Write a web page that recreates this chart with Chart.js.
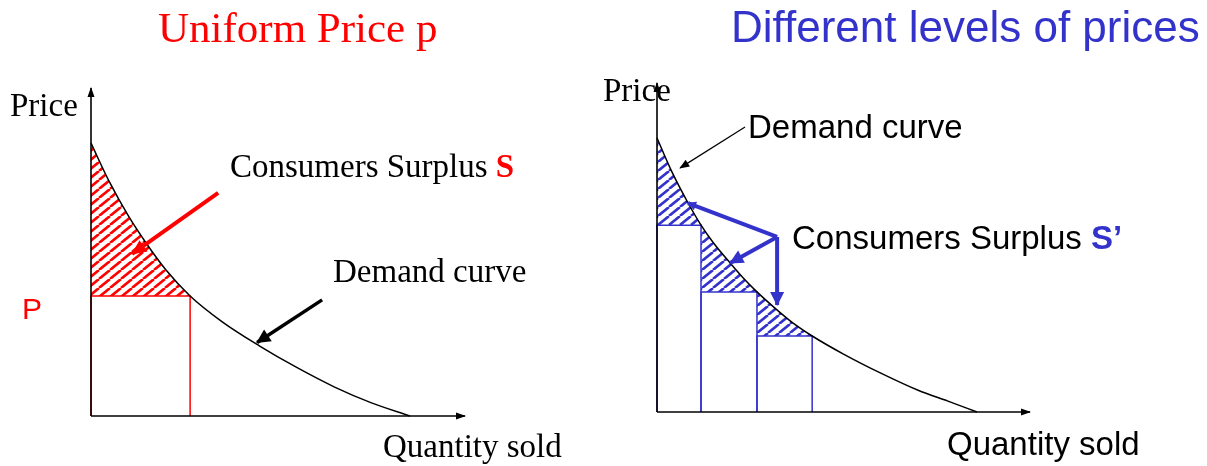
<!DOCTYPE html>
<html><head><meta charset="utf-8">
<script src="https://cdn.jsdelivr.net/npm/chart.js@4.4.1/dist/chart.umd.min.js"></script>
<style>
html,body{margin:0;padding:0;background:#fff;}
#wrap{position:relative;width:1207px;height:466px;overflow:hidden;background:#fff;}
canvas{position:absolute;top:0;}
.t{position:absolute;white-space:nowrap;line-height:1;}
.serif{font-family:"Liberation Serif","Times New Roman",serif;}
.sans{font-family:"Liberation Sans",Arial,sans-serif;}
</style></head><body>
<div id="wrap">
<canvas id="c1" width="603" height="466" style="left:0"></canvas>
<canvas id="c2" width="604" height="466" style="left:603px"></canvas>
<div class="t serif" style="left:158px;top:6px;font-size:43px;color:#ff0000">Uniform Price p</div>
<div class="t serif" style="left:10px;top:89px;font-size:33px;color:#000">Price</div>
<div class="t serif" style="left:230px;top:150px;font-size:33px;color:#000">Consumers Surplus <b style="color:#ff0000">S</b></div>
<div class="t sans" style="left:22px;top:294px;font-size:30px;color:#ff0000">P</div>
<div class="t serif" style="left:333px;top:255px;font-size:33px;color:#000">Demand curve</div>
<div class="t serif" style="left:383px;top:430px;font-size:33px;color:#000">Quantity sold</div>
<div class="t sans" style="left:731px;top:5px;font-size:44px;color:#3333cc">Different levels of prices</div>
<div class="t serif" style="left:603px;top:74px;font-size:33px;color:#000">Price</div>
<div class="t sans" style="left:748px;top:110px;font-size:33px;color:#000">Demand curve</div>
<div class="t sans" style="left:792px;top:221px;font-size:33px;color:#000">Consumers Surplus <b style="color:#3333cc">S’</b></div>
<div class="t sans" style="left:947px;top:427px;font-size:33px;color:#000">Quantity sold</div>
</div>
<script>
// ---------- data (quantity / price, axis units 0..100) ----------
const axisMax = 100;
// Left panel: uniform price
const demandQL = [0, 5, 10, 15, 20, 26.5, 35, 45, 55, 65, 75, 85.3];
const demandPL = [83.2, 71.2, 61.0, 52.3, 44.6, 36.6, 28.8, 21.4, 14.8, 8.9, 4.0, 0];
const uniformPrice = 36.6;
const uniformQty = 26.5;
const arrowSurplusL = [[34.0, 68.0], [11.0, 49.4]];
const arrowDemandL = [[61.8, 35.4], [44.4, 22.4]];
// Right panel: different price levels
const demandQR = [0, 4, 8.3, 11.8, 15, 19.6, 23, 26.8, 32, 36.5, 41.6, 50, 60, 70, 78, 85.8];
const demandPR = [83.3, 73.0, 63.6, 56.8, 51.6, 45.3, 40.9, 36.5, 31.2, 27.0, 23.1, 17.6, 11.8, 6.6, 3.3, 0];
const stepQ = [0, 11.8, 26.8, 41.6];
const stepP = [56.8, 36.5, 23.1];
const arrowDemandR = [[23.6, 86.6], [6.2, 74.2]];
const arrowHub = [32.2, 53.2];
const arrowTipsR = [[8.3, 63.5], [19.6, 45.3], [32.2, 32.5]];

const RED = '#ff0000', BLUE = '#3333cc', BLACK = '#000000';

function hatch(color) {
  const c = document.createElement('canvas');
  c.width = 11; c.height = 9;
  const x = c.getContext('2d');
  x.strokeStyle = color; x.lineWidth = 2.6;
  for (const o of [-11, 0, 11]) { x.beginPath(); x.moveTo(o, 9); x.lineTo(o + 11, 0); x.stroke(); }
  return x.createPattern(c, 'repeat');
}
const xy = (qs, ps) => qs.map((q, i) => ({x: q, y: ps[i]}));
const seg = pairs => pairs.map(p => ({x: p[0], y: p[1]}));
function line(data, color, width, extra) {
  return Object.assign({data, borderColor: color, backgroundColor: color, borderWidth: width,
    showLine: true, pointRadius: 0, fill: false, clip: false, tension: 0,
    borderCapStyle: 'butt', borderJoinStyle: 'miter'}, extra || {});
}
function area(qs, ps, q0, q1, level, color) {
  const d = [];
  qs.forEach((q, i) => { if (q >= q0 && q <= q1) d.push({x: q, y: ps[i]}); });
  return line(d, 'rgba(0,0,0,0)', 0, {fill: {value: level}, backgroundColor: hatch(color),
    cubicInterpolationMode: 'monotone'});
}

const arrowPlugin = {
  id: 'arrowHeads',
  afterDatasetsDraw(chart) {
    const ctx = chart.ctx;
    chart.data.datasets.forEach((ds, i) => {
      if (!ds.head) return;
      const p = chart.getDatasetMeta(i).data;
      const a = p[p.length - 2], b = p[p.length - 1];
      const ang = Math.atan2(b.y - a.y, b.x - a.x);
      const len = ds.head[0], half = ds.head[1];
      ctx.save();
      ctx.fillStyle = ds.borderColor;
      ctx.translate(b.x, b.y); ctx.rotate(ang);
      ctx.beginPath(); ctx.moveTo(1, 0); ctx.lineTo(-len, half); ctx.lineTo(-len, -half); ctx.closePath(); ctx.fill();
      ctx.restore();
    });
  }
};

function opts(pad) {
  return {
    responsive: false, animation: false, devicePixelRatio: 1, events: [],
    layout: {padding: pad},
    plugins: {legend: {display: false}, tooltip: {enabled: false}, title: {display: false}},
    scales: {
      x: {type: 'linear', min: 0, max: axisMax, display: false},
      y: {type: 'linear', min: 0, max: axisMax, display: false}
    }
  };
}
function axes() {
  return [
    line([{x: 0, y: 0}, {x: axisMax, y: 0}], BLACK, 1.6, {head: [9, 3.5]}),
    line([{x: 0, y: 0}, {x: 0, y: axisMax}], BLACK, 1.6, {head: [9, 3.5]})
  ];
}

// Left chart
new Chart(document.getElementById('c1'), {
  type: 'scatter',
  data: {datasets: [
    line(seg(arrowSurplusL), RED, 4, {head: [14, 7]}),
    line(seg(arrowDemandL), BLACK, 3.5, {head: [13, 7]}),
    line(xy(demandQL, demandPL), BLACK, 1.5, {cubicInterpolationMode: 'monotone'}),
    ...axes(),
    line([{x: 0, y: 0}, {x: 0, y: uniformPrice}, {x: uniformQty, y: uniformPrice}, {x: uniformQty, y: 0}], RED, 1.5),
    area(demandQL, demandPL, 0, uniformQty, uniformPrice, RED)
  ]},
  options: opts({left: 91, right: 138, top: 88, bottom: 50}),
  plugins: [arrowPlugin]
});

// Right chart
const rDs = [];
arrowTipsR.forEach((t, i) => rDs.push(line(seg([arrowHub, t]), BLUE, 4, {head: i === 0 ? [8, 4.5] : [13, 7]})));
rDs.push(line(seg(arrowDemandR), BLACK, 1.2, {head: [9, 4]}));
rDs.push(line(xy(demandQR, demandPR), BLACK, 1.5, {cubicInterpolationMode: 'monotone'}));
rDs.push(...axes());
stepP.forEach((p, i) => rDs.push(line([{x: stepQ[i], y: 0}, {x: stepQ[i], y: p}, {x: stepQ[i + 1], y: p}, {x: stepQ[i + 1], y: 0}], BLUE, 1.5)));
stepP.forEach((p, i) => rDs.push(area(demandQR, demandPR, stepQ[i], stepQ[i + 1], p, BLUE)));
new Chart(document.getElementById('c2'), {
  type: 'scatter',
  data: {datasets: rDs},
  options: opts({left: 54, right: 177, top: 83, bottom: 54}),
  plugins: [arrowPlugin]
});
</script>
</body></html>
